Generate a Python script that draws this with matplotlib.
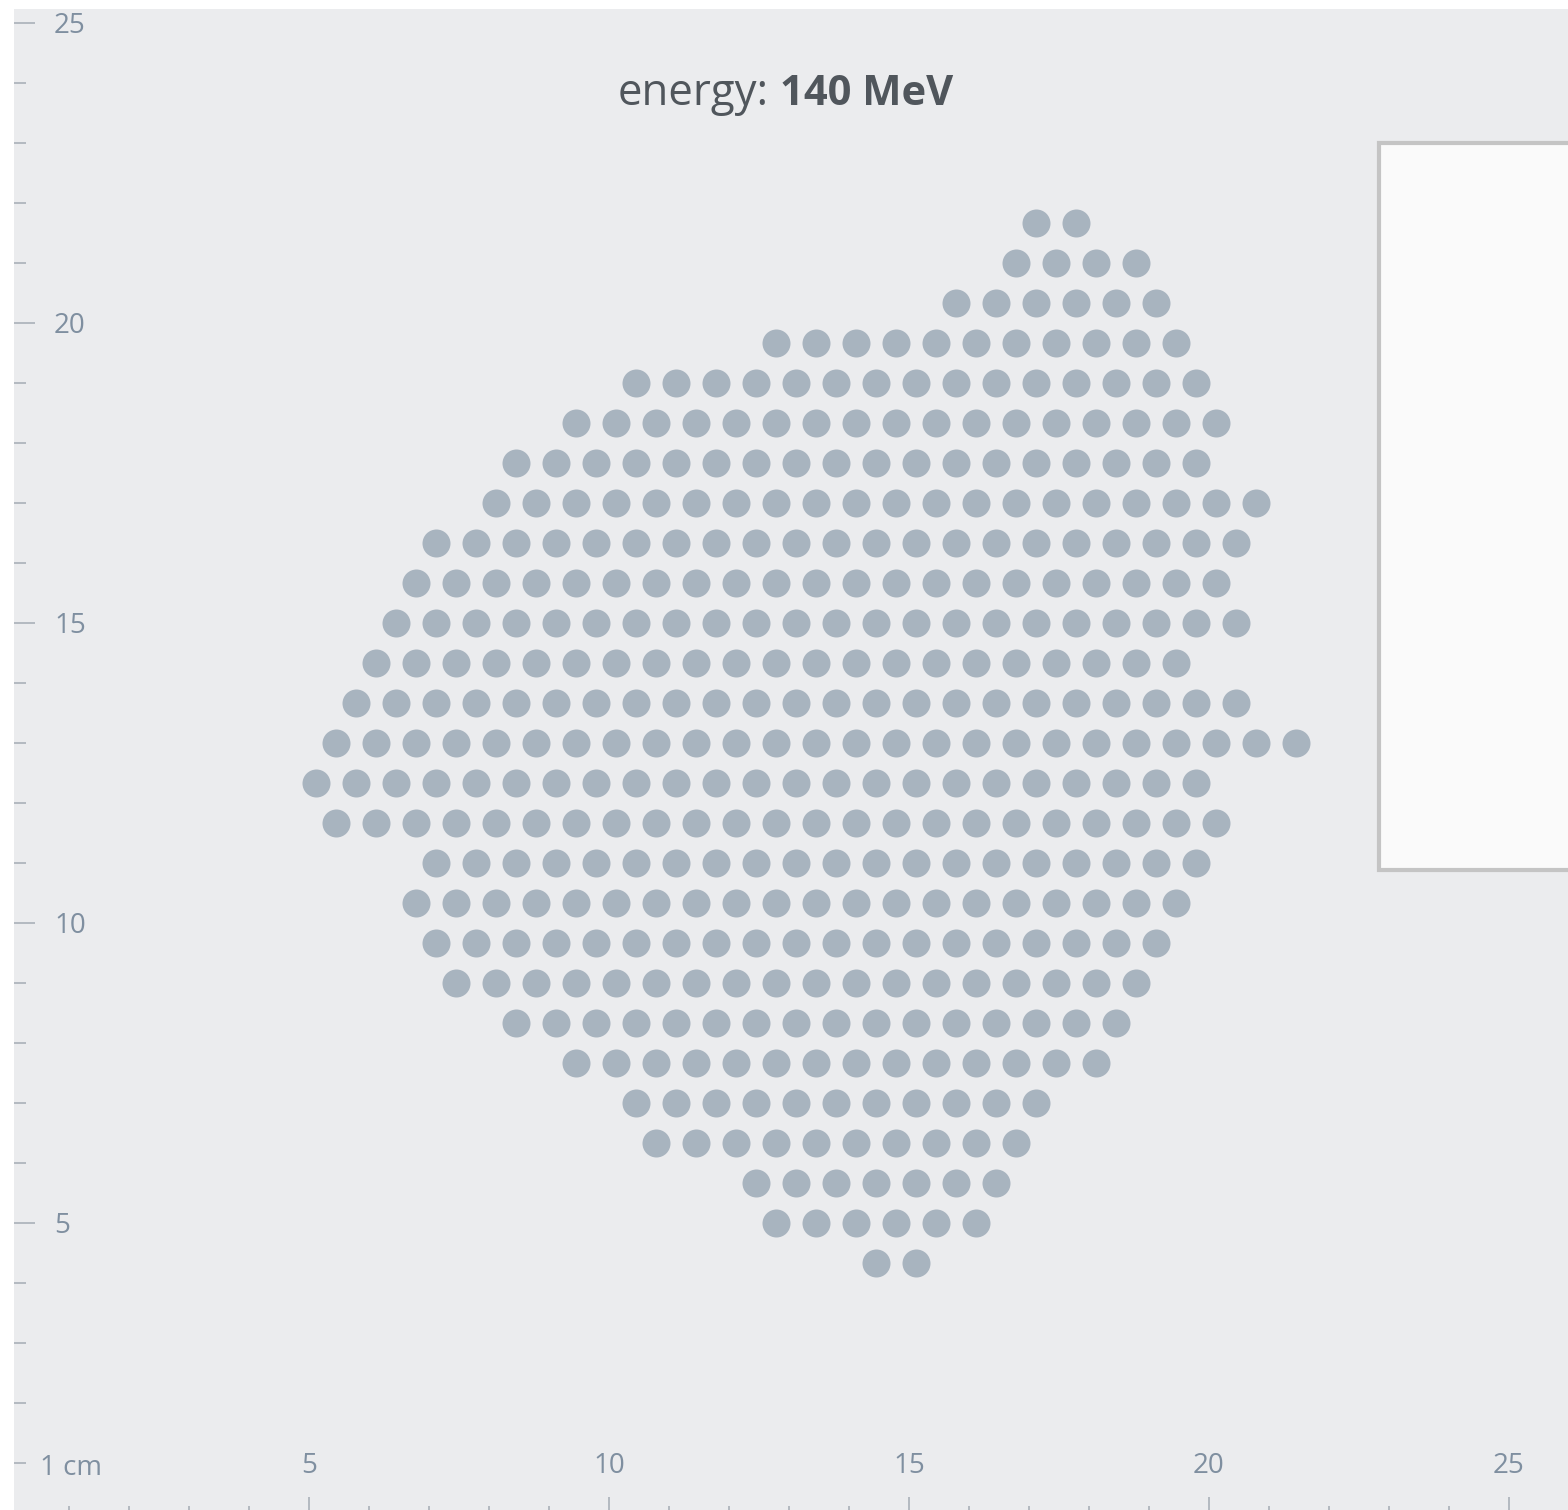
import numpy as np
import matplotlib
matplotlib.use("Agg")
import matplotlib.pyplot as plt
from matplotlib.patches import Rectangle

plt.rcParams['font.family'] = ['Open Sans', 'DejaVu Sans']

# ---------------- data (cm) ----------------
title_regular = "energy:"
title_bold = "140 MeV"

# spot rows: y position, x of first spot, number of spots in the row
row_y = [21.67, 21.00, 20.33, 19.67, 19.00, 18.33, 17.67, 17.00, 16.33,
         15.67, 15.00, 14.33, 13.67, 13.00, 12.33, 11.67, 11.00, 10.33,
         9.67, 9.00, 8.33, 7.67, 7.00, 6.33, 5.67, 5.00, 4.33]
row_x_first = [17.12, 16.78, 15.78, 12.78, 10.45, 9.45, 8.45, 8.12, 7.12,
               6.78, 6.45, 6.12, 5.78, 5.45, 5.12, 5.45, 7.12, 6.78,
               7.12, 7.45, 8.45, 9.45, 10.45, 10.78, 12.45, 12.78, 14.45]
row_n_spots = [2, 4, 6, 11, 15, 17, 18, 20, 21,
               21, 22, 21, 23, 25, 23, 23, 20, 20,
               19, 18, 16, 14, 11, 10, 7, 6, 2]
spot_pitch = 2.0 / 3.0

x_tick_values = [5, 10, 15, 20, 25]
x_tick_labels = ["5", "10", "15", "20", "25"]
y_tick_values = [5, 10, 15, 20, 25]
y_tick_labels = ["5", "10", "15", "20", "25"]
y_unit_value = 1
y_unit_label = "1 cm"
minor_tick_values = list(range(1, 26))

# ---------------- build spot coordinates ----------------
xs, ys = [], []
for y, x0, n in zip(row_y, row_x_first, row_n_spots):
    for k in range(n):
        xs.append(x0 + k * spot_pitch)
        ys.append(y)

# ---------------- figure ----------------
W, H = 1568, 1510
fig = plt.figure(figsize=(W / 100, H / 100), dpi=100, facecolor="white")

# axes placed in pixel terms (60 px per cm)
left_px, top_px, bottom_px = 14, 9, 1518
ax = fig.add_axes([left_px / W, (H - bottom_px) / H,
                   (W - left_px) / W, (bottom_px - top_px) / H])
ax.set_facecolor("#ebecee")
ax.set_xlim(5 / 60, (W - 9) / 60)
ax.set_ylim(5 / 60, (1523 - top_px) / 60)
for s in ax.spines.values():
    s.set_visible(False)

dot_diam_px = 28
ax.scatter(xs, ys, s=(dot_diam_px * 0.72) ** 2, c="#a8b4bf",
           linewidths=0, zorder=3)

# ticks
ax.set_xticks(x_tick_values)
ax.set_xticks(minor_tick_values, minor=True)
ax.set_yticks(y_tick_values)
ax.set_yticks(minor_tick_values, minor=True)
ax.tick_params(which="both", direction="in", color="#a4acb4", width=1.1,
               labelleft=False, labelbottom=False)
ax.tick_params(which="major", length=15)
ax.tick_params(which="minor", length=8.6)

label_color = "#7f8fa0"
label_size = 20
ty = ax.get_yaxis_transform()
tx = ax.get_xaxis_transform()
for v, lab in zip(y_tick_values, y_tick_labels):
    ax.text((54 - left_px) / (W - left_px), v - 10 / 60, lab, transform=ty,
            ha="left", va="baseline", fontsize=label_size, color=label_color)
ax.text((40 - left_px) / (W - left_px), y_unit_value - 12 / 60, y_unit_label,
        transform=ty, ha="left", va="baseline", fontsize=label_size,
        color=label_color)
for v, lab in zip(x_tick_values, x_tick_labels):
    ax.text(v, (bottom_px - 1473) / (bottom_px - top_px), lab, transform=tx,
            ha="center", va="baseline", fontsize=label_size, color=label_color)

# title
title_color = "#50565c"
fig.text(769 / W, 1 - 105 / H, title_regular, ha="right", va="baseline",
         fontsize=31.5, color=title_color)
fig.text(780 / W, 1 - 105 / H, title_bold, ha="left", va="baseline",
         fontsize=30, fontweight="bold", color=title_color)

# white panel on the right (cut by the image edge)
box = Rectangle((1378.5 / W, 1 - 870 / H), (W + 30 - 1378.5) / W,
                (870 - 143) / H, transform=fig.transFigure,
                facecolor="#fafafa", edgecolor="#c4c4c4", linewidth=3.0,
                zorder=5)
fig.patches.append(box)

fig.savefig("out.png", dpi=100, facecolor="white")
